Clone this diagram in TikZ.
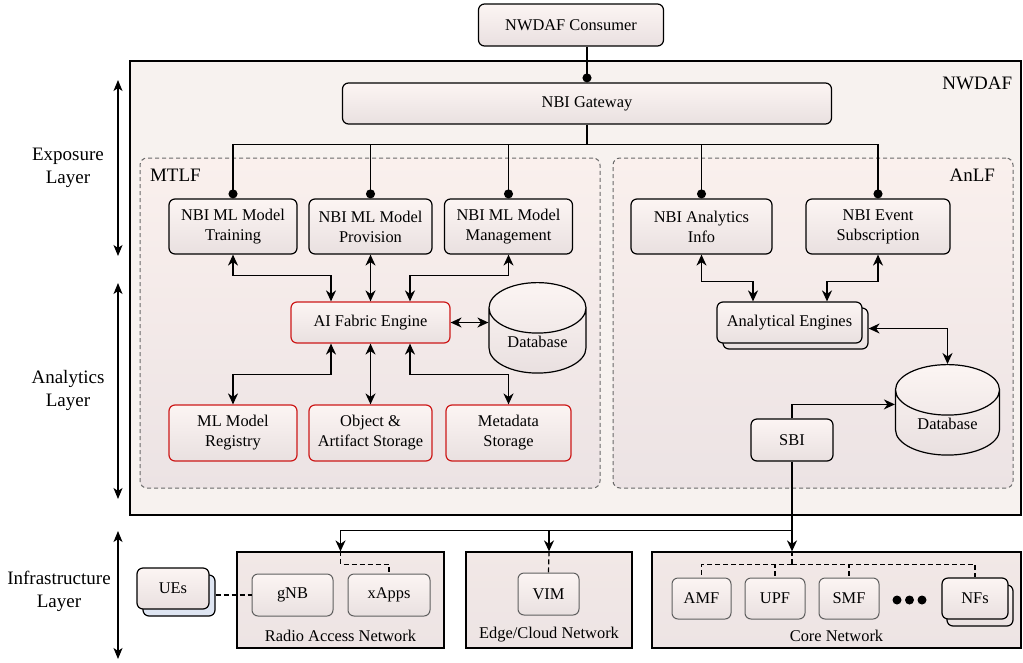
\documentclass[tikz,border=0pt]{standalone}
\usepackage{fontspec}
\setmainfont{Liberation Serif}
\usetikzlibrary{arrows.meta,shapes.geometric}

\definecolor{frameback}{RGB}{247,242,239}
\definecolor{areatop}{RGB}{250,240,237}
\definecolor{areabot}{RGB}{236,227,228}
\definecolor{boxtop}{RGB}{252,245,243}
\definecolor{boxbot}{RGB}{233,224,224}
\definecolor{infratop}{RGB}{242,232,230}
\definecolor{infrabot}{RGB}{237,228,228}
\definecolor{fabricred}{RGB}{205,25,25}
\definecolor{areagray}{RGB}{105,105,105}
\definecolor{innergray}{RGB}{95,95,95}
\definecolor{ueback}{RGB}{222,229,242}

\tikzset{
    boxfont/.style={font=\fontsize{16.4}{20}\selectfont},
    sidefont/.style={font=\fontsize{19}{23}\selectfont},
    fnbox/.style={draw=black, line width=1.2pt, rounded corners=6pt, top color=boxtop, bottom color=boxbot, align=center, inner sep=0pt, boxfont},
    redbox/.style={fnbox, draw=fabricred},
    innerbox/.style={fnbox, draw=innergray, line width=1pt},
    areabox/.style={draw=areagray, line width=1pt, dash pattern=on 4pt off 3pt, rounded corners=7pt, top color=areatop, bottom color=areabot},
    infrabox/.style={draw=black, line width=1.2pt, top color=infratop, bottom color=infrabot},
    dbase/.style={cylinder, shape border rotate=90, aspect=0.84, draw=black, line width=1.2pt, top color=boxtop, bottom color=boxbot, inner sep=0pt, boxfont},
    link/.style={line width=1.5pt},
    dlink/.style={line width=1.2pt, dash pattern=on 5pt off 3pt},
    layerarrow/.style={line width=1.2pt, {Stealth[length=11pt,width=9pt,inset=3pt]}-{Stealth[length=11pt,width=9pt,inset=3pt]}},
    >={Stealth[length=11pt,width=10pt,inset=3.5pt]},
    dot/.style={-{Circle[length=9pt]}}
}

\begin{document}
\begin{tikzpicture}[x=1pt, y=-1pt]
\useasboundingbox (0,0) rectangle (1023,662);

% NWDAF frame and its two function areas
\node[draw=black, line width=1.2pt, fill=frameback, minimum width=891pt, minimum height=454pt] (nwdaf) at (575.5,288) {};
\node[sidefont, anchor=east] (nwdaflbl) at ([shift={(-6pt,-23pt)}]nwdaf.north east) {NWDAF};
\node[areabox, minimum width=460pt, minimum height=330pt] (mtlf) at (370,323) {};
\node[areabox, minimum width=400pt, minimum height=330pt] (anlf) at (813,323) {};
\node[sidefont, anchor=west] (mtlflbl) at ([shift={(7pt,-18pt)}]mtlf.north west) {MTLF};
\node[sidefont, anchor=east] (anlflbl) at ([shift={(-15pt,-18pt)}]anlf.north east) {AnLF};

% Consumer and gateway
\node[fnbox, minimum width=185pt, minimum height=42pt] (consumer) at (571,25) {NWDAF Consumer};
\node[fnbox, minimum width=489pt, minimum height=41pt] (gw) at (587,103.5) {NBI Gateway};

% MTLF boxes
\node[fnbox, minimum width=128pt, minimum height=55pt] (train) at (233,226.5) {NBI ML Model\\Training};
\node[fnbox, minimum width=123pt, minimum height=55pt] (prov) at (370.5,226.5) {NBI ML Model\\Provision};
\node[fnbox, minimum width=128pt, minimum height=55pt] (mgmt) at (508.5,226.5) {NBI ML Model\\Management};
\node[redbox, minimum width=159pt, minimum height=41pt] (aif) at (370.5,322.5) {AI Fabric Engine};
\node[dbase, minimum width=97pt, minimum height=82pt, anchor=north] (db1) at (537.5,282) {\raisebox{-14pt}{Database}};
\node[redbox, minimum width=128pt, minimum height=56pt] (reg) at (233,433) {ML Model\\Registry};
\node[redbox, minimum width=123pt, minimum height=56pt] (obj) at (370.5,433) {Object \&\\Artifact Storage};
\node[redbox, minimum width=125pt, minimum height=56pt] (meta) at (508.5,433) {Metadata\\Storage};

% AnLF boxes
\node[fnbox, minimum width=141pt, minimum height=55pt] (info) at (701.5,226.5) {NBI Analytics\\Info};
\node[fnbox, minimum width=144pt, minimum height=55pt] (evsub) at (878,226.5) {NBI Event\\Subscription};
\node[fnbox, minimum width=145pt, minimum height=41pt] (aeback) at (795.5,328.5) {};
\node[fnbox, minimum width=145pt, minimum height=41pt] (ae) at (789.5,322.5) {Analytical Engines};
\node[dbase, minimum width=104pt, minimum height=82pt, anchor=north] (db2) at (947.5,364) {\raisebox{-14pt}{Database}};
\node[fnbox, minimum width=82pt, minimum height=42pt] (sbi) at (792,440) {SBI};

% Infrastructure layer
\node[infrabox, minimum width=207pt, minimum height=96pt] (ran) at (340.5,600) {};
\node[infrabox, minimum width=166pt, minimum height=96pt] (edge) at (549,600) {};
\node[infrabox, minimum width=369pt, minimum height=96pt] (core) at (836.5,600) {};
\node[boxfont, anchor=south] (ranlbl) at ([yshift=3pt]ran.south) {Radio Access Network};
\node[boxfont, anchor=south] (edgelbl) at ([yshift=3pt]edge.south) {Edge/Cloud Network};
\node[boxfont, anchor=south] (corelbl) at ([yshift=3pt]core.south) {Core Network};
\node[fnbox, fill=ueback, top color=ueback, bottom color=ueback, minimum width=72pt, minimum height=41pt] (uesback) at (179,595.5) {};
\node[fnbox, minimum width=72pt, minimum height=41pt] (ues) at (173,588.5) {UEs};
\node[innerbox, minimum width=81pt, minimum height=42pt] (gnb) at (292.5,595) {gNB};
\node[innerbox, minimum width=82pt, minimum height=42pt] (xapps) at (389,595) {xApps};
\node[innerbox, minimum width=61pt, minimum height=42pt] (vim) at (548.5,594) {VIM};
\node[innerbox, minimum width=59pt, minimum height=41pt] (amf) at (701.5,598.5) {AMF};
\node[innerbox, minimum width=60pt, minimum height=41pt] (upf) at (775,598.5) {UPF};
\node[innerbox, minimum width=60pt, minimum height=41pt] (smf) at (849,598.5) {SMF};
\node[fnbox, minimum width=66pt, minimum height=41pt] (nfsback) at (980,605.5) {};
\node[fnbox, minimum width=66pt, minimum height=41pt] (nfs) at (975,598.5) {NFs};
\foreach \x/\n in {897/a,909.5/b,922/c}
    \node[circle, fill=black, inner sep=0pt, minimum size=9pt] (dot\n) at (\x,600) {};

% Gateway links
\draw[link, dot] (gw.north |- consumer.south) -- (gw.north);
\draw[link] (gw.south) -- ++(0,20) coordinate (gwsplit);
\foreach \n in {train,prov,mgmt,info,evsub}
    \draw[link, dot] (gwsplit) -| (\n.north);

% MTLF links
\draw[link, <->] (train.south) -- ++(0,21) -| ([xshift=-39.5pt]aif.north);
\draw[link, <->] (prov.south) -- (aif.north);
\draw[link, <->] (mgmt.south) -- ++(0,21) -| ([xshift=39.5pt]aif.north);
\draw[link, <->] (aif.east) -- (aif.east -| db1.west);
\draw[link, <->] ([xshift=-39.5pt]aif.south) -- ++(0,31) -| (reg.north);
\draw[link, <->] (aif.south) -- (obj.north);
\draw[link, <->] ([xshift=39.5pt]aif.south) -- ++(0,31) -| (meta.north);

% AnLF links
\draw[link, <->] (info.south) -- ++(0,27) -| ([xshift=-36.5pt]ae.north);
\draw[link, <->] (evsub.south) -- ++(0,27) -| ([xshift=37.5pt]ae.north);
\draw[link, <->] (aeback.east) -| (db2.north);
\draw[link, ->] (sbi.north) -- ++(0,-14) coordinate (sbiup) -- (sbiup -| db2.west);

% SBI to the infrastructure
\draw[link, ->] (sbi.south) -- ++(0,69) coordinate (infbus) -- (sbi.south |- core.north);
\draw[link, ->] (infbus) -| (ran.north);
\draw[link, ->] (infbus) -| (edge.north);
\draw[dlink] (ran.north) -- ++(0,13) -| (xapps.north);
\draw[dlink] (edge.north) -- (vim.north);
\draw[dlink] (sbi.south |- core.north) -- ++(0,13) coordinate (corebus);
\foreach \n in {amf,upf,smf,nfs}
    \draw[dlink] (corebus) -| (\n.north);
\draw[dlink] (uesback.east |- gnb.west) -- (gnb.west);

% Layers
\coordinate (expT) at (118,80);
\coordinate (expB) at (118,256);
\coordinate (anaT) at (118,283);
\coordinate (anaB) at (118,499);
\coordinate (infT) at (118,531);
\coordinate (infB) at (118,659);
\draw[layerarrow] (expT) -- (expB);
\draw[layerarrow] (anaT) -- (anaB);
\draw[layerarrow] (infT) -- (infB);
\node[sidefont, align=center] (explbl) at (68,168) {Exposure\\Layer};
\node[sidefont, align=center] (analbl) at (68,390) {Analytics\\Layer};
\node[sidefont, align=center] (inflbl) at (59,591) {Infrastructure\\Layer};

\end{tikzpicture}
\end{document}
